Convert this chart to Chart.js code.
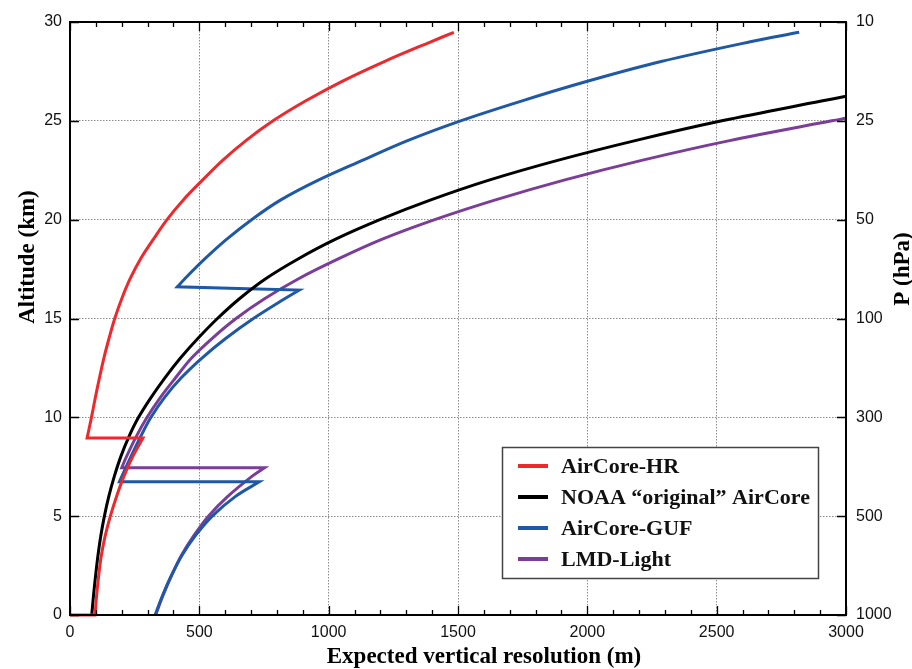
<!DOCTYPE html>
<html>
<head>
<meta charset="utf-8">
<script src="https://cdn.jsdelivr.net/npm/chart.js@4.4.1/dist/chart.umd.min.js"></script>
<style>
  html, body { margin: 0; padding: 0; background: #fff; }
  #cvs { display: block; }
</style>
</head>
<body>
<canvas id="cvs" width="912" height="669"></canvas>
<script>
// values: resolution (m) and altitude (km)
var hrRes = [0, 97, 103, 111, 121, 136, 156, 180, 208, 242, 282, 66, 83, 98, 114, 131, 151, 173, 200, 232, 272, 322, 375, 438, 512, 590, 680, 785, 910, 1052, 1215, 1395, 1484];
var hrAlt = [0, 0, 1, 2, 3, 4, 5, 6, 7, 8, 8.95, 8.95, 10, 11, 12, 13, 14, 15, 16, 17, 18, 19, 20, 21, 22, 23, 24, 25, 26, 27, 28, 29, 29.48];

var noaaRes = [84, 91, 99, 108, 119, 133, 150, 171, 196, 227, 265, 313, 367, 427, 495, 570, 655, 755, 880, 1025, 1198, 1395, 1620, 1885, 2185, 2520, 2905, 3000];
var noaaAlt = [0, 1, 2, 3, 4, 5, 6, 7, 8, 9, 10, 11, 12, 13, 14, 15, 16, 17, 18, 19, 20, 21, 22, 23, 24, 25, 26, 26.24];

var gufRes = [329, 358, 392, 432, 484, 550, 640, 732, 191, 200, 235, 272, 313, 365, 430, 510, 603, 709, 830, 887, 415, 443, 520, 605, 702, 815, 960, 1130, 1305, 1510, 1745, 2000, 2285, 2630, 2819];
var gufAlt = [0, 1, 2, 3, 4, 5, 6, 6.74, 6.74, 7, 8, 9, 10, 11, 12, 13, 14, 15, 16, 16.44, 16.6, 17, 18, 19, 20, 21, 22, 23, 24, 25, 26, 27, 28, 29, 29.48];

var lmdRes = [331, 360, 393, 430, 478, 535, 610, 702, 752, 200, 218, 255, 298, 349, 408, 470, 550, 642, 752, 882, 1035, 1205, 1410, 1645, 1910, 2210, 2550, 2945, 3000];
var lmdAlt = [0, 1, 2, 3, 4, 5, 6, 7, 7.45, 7.45, 8, 9, 10, 11, 12, 13, 14, 15, 16, 17, 18, 19, 20, 21, 22, 23, 24, 25, 25.13];

var seriesNames = ['AirCore-HR', 'NOAA \u201coriginal\u201d AirCore', 'AirCore-GUF', 'LMD-Light'];
var seriesColors = ['rgb(237,41,45)', 'rgb(0,0,0)', 'rgb(31,88,166)', 'rgb(122,62,152)'];

var altTicks = [0, 5, 10, 15, 20, 25, 30];
var pressureLabels = ['1000', '500', '300', '100', '50', '25', '10'];

// build {x,y} points; corners of the step-back segments are doubled so the
// spline keeps them sharp and the flat parts straight
function pts(xs, ys) {
	var out = [];
	for (var i = 0; i < xs.length; i++) {
		var p = { x: xs[i], y: ys[i] };
		if (i > 0 && (xs[i] < xs[i - 1] || ys[i] === ys[i - 1])) {
			out.push({ x: xs[i - 1], y: ys[i - 1] });
			out.push(p);
		}
		out.push(p);
	}
	return out;
}

var allData = [pts(hrRes, hrAlt), pts(noaaRes, noaaAlt), pts(gufRes, gufAlt), pts(lmdRes, lmdAlt)];

var datasets = [];
for (var i = 0; i < seriesNames.length; i++) {
	datasets.push({
		label: seriesNames[i],
		data: allData[i],
		showLine: true,
		borderColor: seriesColors[i],
		backgroundColor: seriesColors[i],
		borderWidth: 3,
		pointRadius: 0,
		tension: 0.35,
		fill: false,
		clip: 3
	});
}

var tickFont = { family: 'Liberation Sans', size: 16 };
var gridOpts = { color: '#8c8c8c', lineWidth: 1, drawTicks: false };

// frame, inward ticks, axis titles and the boxed legend
var decor = {
	id: 'decor',
	afterDraw: function (chart) {
		var ctx = chart.ctx;
		var a = chart.chartArea;
		var sx = chart.scales.x, sy = chart.scales.y;
		ctx.save();
		ctx.strokeStyle = '#000';
		ctx.lineWidth = 1.3;
		// minor / major ticks on x (top and bottom)
		for (var v = 0; v <= 3000; v += 100) {
			var px = Math.round(sx.getPixelForValue(v)) + 0.5;
			var len = (v % 500 === 0) ? 9 : 5;
			ctx.beginPath();
			ctx.moveTo(px, a.bottom); ctx.lineTo(px, a.bottom - len);
			ctx.moveTo(px, a.top); ctx.lineTo(px, a.top + len);
			ctx.stroke();
		}
		for (var k = 0; k < altTicks.length; k++) {
			var py = Math.round(sy.getPixelForValue(altTicks[k])) + 0.5;
			ctx.beginPath();
			ctx.moveTo(a.left, py); ctx.lineTo(a.left + 9, py);
			ctx.moveTo(a.right, py); ctx.lineTo(a.right - 9, py);
			ctx.stroke();
		}
		ctx.lineWidth = 2;
		ctx.strokeRect(a.left, a.top, a.right - a.left, a.bottom - a.top);

		// axis titles
		ctx.fillStyle = '#000';
		ctx.font = 'bold 23px "Liberation Serif"';
		ctx.textAlign = 'center';
		ctx.textBaseline = 'middle';
		ctx.fillText('Expected vertical resolution (m)', 484, 657);
		ctx.save();
		ctx.translate(28, 257);
		ctx.rotate(-Math.PI / 2);
		ctx.fillText('Altitude (km)', 0, 0);
		ctx.restore();
		ctx.save();
		ctx.translate(903, 269);
		ctx.rotate(-Math.PI / 2);
		ctx.fillText('P (hPa)', 0, 0);
		ctx.restore();

		// legend
		var bx = 502.5, by = 447.5, bw = 316, bh = 131;
		ctx.fillStyle = '#fff';
		ctx.fillRect(bx, by, bw, bh);
		ctx.strokeStyle = '#444';
		ctx.lineWidth = 1.5;
		ctx.strokeRect(bx, by, bw, bh);
		var rows = [466, 497, 528, 559];
		ctx.font = 'bold 22px "Liberation Serif"';
		ctx.textAlign = 'left';
		chart.data.datasets.forEach(function (ds, i) {
			ctx.strokeStyle = ds.borderColor;
			ctx.lineWidth = 4;
			ctx.beginPath();
			ctx.moveTo(518, rows[i]); ctx.lineTo(548, rows[i]);
			ctx.stroke();
			ctx.fillStyle = '#111';
			ctx.fillText(ds.label, 561, rows[i] + 1);
		});
		ctx.restore();
	}
};

var chart = new Chart('cvs', {
	type: 'scatter',
	data: { datasets: datasets },
	options: {
		responsive: false,
		animation: false,
		layout: { padding: { top: 22, left: 0, right: 0, bottom: 0 } },
		plugins: { legend: { display: false }, tooltip: { enabled: false } },
		scales: {
			x: {
				type: 'linear', position: 'bottom', min: 0, max: 3000,
				afterFit: function (s) { s.height = 54; },
				ticks: {
					stepSize: 500, font: tickFont, color: '#111', padding: 8, maxRotation: 0,
					callback: function (v) { return String(v); }
				},
				grid: gridOpts,
				border: { display: false, dash: [1.5, 1.5] }
			},
			y: {
				type: 'linear', position: 'left', min: 0, max: 30,
				afterFit: function (s) { s.width = 70; },
				ticks: { stepSize: 5, font: tickFont, color: '#111', padding: 8 },
				grid: gridOpts,
				border: { display: false, dash: [1.5, 1.5] }
			},
			y2: {
				type: 'linear', position: 'right', min: 0, max: 30,
				afterFit: function (s) { s.width = 66; },
				ticks: {
					stepSize: 5, font: tickFont, color: '#111', padding: 10,
					callback: function (v) {
						var idx = altTicks.indexOf(v);
						return idx >= 0 ? pressureLabels[idx] : '';
					}
				},
				grid: { display: false, drawTicks: false },
				border: { display: false }
			}
		}
	},
	plugins: [decor]
});
</script>
</body>
</html>
